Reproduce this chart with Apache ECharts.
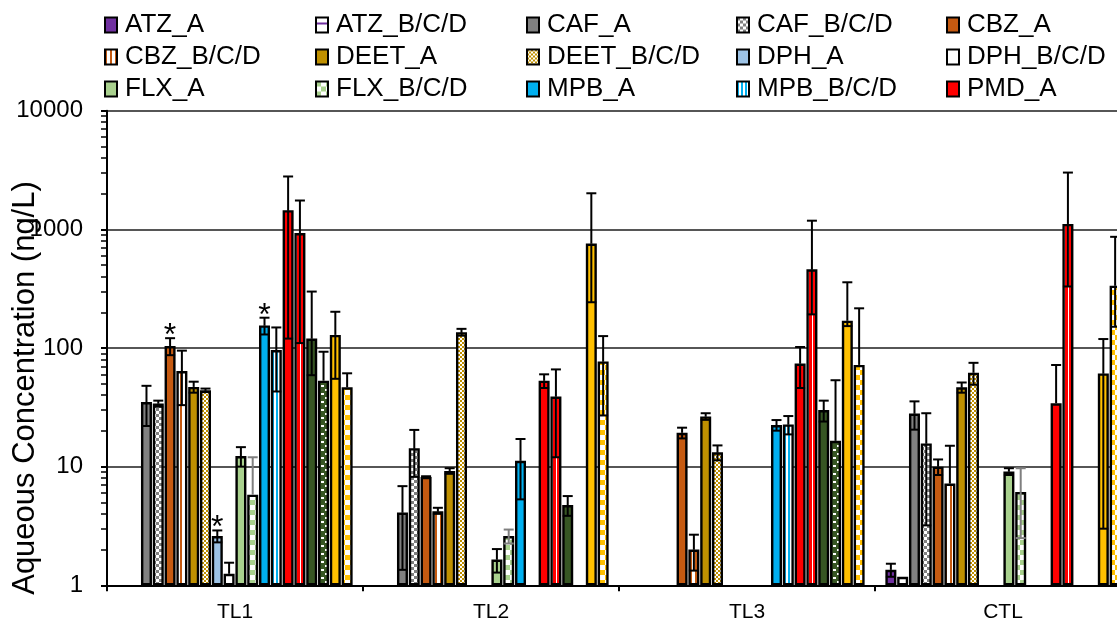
<!DOCTYPE html>
<html>
<head>
<meta charset="utf-8">
<script src="https://cdn.jsdelivr.net/npm/echarts@6/dist/echarts.min.js"></script>
<style>
  html, body { margin: 0; padding: 0; background: #ffffff; }
  #chart { width: 1117px; height: 624px; }
</style>
</head>
<body>
<div id="chart"></div>
<script>
// Sampling sites on the x axis
const categories = ['TL1', 'TL2', 'TL3', 'CTL'];

// Compounds, in bar order inside each site group
const compounds = [
  'ATZ_A', 'ATZ_B/C/D', 'CAF_A', 'CAF_B/C/D', 'CBZ_A', 'CBZ_B/C/D',
  'DEET_A', 'DEET_B/C/D', 'DPH_A', 'DPH_B/C/D', 'FLX_A', 'FLX_B/C/D',
  'MPB_A', 'MPB_B/C/D', 'PMD_A', 'PMD_B/C/D', 'SMX_A', 'SMX_B/C/D',
  'TCS_A', 'TCS_B/C/D'
];

// Legend entries shown, column by column
const legendColumns = [
  ['ATZ_A', 'CBZ_B/C/D', 'FLX_A'],
  ['ATZ_B/C/D', 'DEET_A', 'FLX_B/C/D'],
  ['CAF_A', 'DEET_B/C/D', 'MPB_A'],
  ['CAF_B/C/D', 'DPH_A', 'MPB_B/C/D'],
  ['CBZ_A', 'DPH_B/C/D', 'PMD_A']
];

// Mean aqueous concentration (ng/L) per compound; null = not detected
const valuesTL1 = [null, null, 35, 34, 104, 64, 47, 44, 2.6, 1.25, 12.3, 5.8, 155, 96, 1450, 930, 120, 53, 129, 46.6];
const valuesTL2 = [null, null, 4.1, 14.3, 8.2, 4.2, 9.2, 136, null, null, 1.65, 2.6, 11.2, null, 53, 39, 4.75, null, 760, 77];
const valuesTL3 = [null, null, null, null, 19.3, 2.0, 26.5, 13.2, null, null, null, null, 22.4, 22.7, 74, 460, 30, 16.5, 170, 72];
const valuesCTL = [1.35, 1.18, 28, 15.7, 10, 7.2, 46.6, 62, null, null, 9.1, 6.1, null, null, 34.2, 1110, null, null, 61, 335];

// Upper error (ng/L)
const errUpTL1 = [null, null, 13, 2, 17, 31, 5, 1.5, 0.3, 0.3, 2.3, 6.2, 25, 53, 1340, 820, 179, 40, 73, 14.6];
const errUpTL2 = [null, null, 2.75, 6.1, 0.1, 0.3, 0.5, 9, null, null, 0.37, 0.35, 5.9, null, 7, 27, 0.9, null, 1254, 49];
const errUpTL3 = [null, null, null, null, 2, 0.67, 1.7, 1.9, null, null, null, null, 2.3, 4, 28, 723, 6, 37, 188, 144];
const errUpCTL = [0.17, null, 7.5, 12.5, 1.5, 7.8, 4.6, 13, null, null, 0.6, 3.6, null, null, 37.7, 1900, null, null, 58, 530];

// Lower error (ng/L); null = lower whisker not drawn
const errDownTL1 = [null, null, 13, 2, 17, 31, 5, 1.5, 0.3, null, 2.3, null, 25, 53, 1330, 820, 61, null, 74, null];
const errDownTL2 = [null, null, 2.75, 6.1, 0.1, 0.2, 0.5, 9, null, null, 0.37, 0.35, 5.9, null, 7, 27, 0.9, null, 517, 50];
const errDownTL3 = [null, null, null, null, 2, 0.67, 1.7, 1.9, null, null, null, null, 2.3, 4, 28, 268, 6, null, 17, null];
const errDownCTL = [0.17, null, 7.5, 12.5, 1.5, null, 4.6, 13, null, null, 0.6, 3.6, null, null, null, 780, null, null, 58, 184];

// Significant differences marked with an asterisk: [site, compound]
const significant = [['TL1', 'CBZ_A'], ['TL1', 'DPH_A'], ['TL1', 'MPB_A']];

// Y axis tick labels (log scale)
const yTicks = [1, 10, 100, 1000, 10000];

const valueRows = [valuesTL1, valuesTL2, valuesTL3, valuesCTL];
const errUpRows = [errUpTL1, errUpTL2, errUpTL3, errUpCTL];
const errDownRows = [errDownTL1, errDownTL2, errDownTL3, errDownCTL];

// ---- fill patterns ----
function tile(w, h, bg, draw) {
  const c = document.createElement('canvas');
  c.width = w; c.height = h;
  const ctx = c.getContext('2d');
  ctx.fillStyle = bg; ctx.fillRect(0, 0, w, h);
  if (draw) draw(ctx);
  return { image: c, repeat: 'repeat' };
}
function checker(cell, fg, bg) {
  return tile(cell * 2, cell * 2, bg, ctx => {
    ctx.fillStyle = fg;
    ctx.fillRect(0, 0, cell, cell);
    ctx.fillRect(cell, cell, cell, cell);
  });
}
function vStripes(period, width, fg, bg) {
  return tile(period, 4, bg, ctx => { ctx.fillStyle = fg; ctx.fillRect(0, 0, width, 4); });
}
function hStripes(period, width, fg, bg) {
  return tile(4, period, bg, ctx => { ctx.fillStyle = fg; ctx.fillRect(0, Math.floor(period / 2), 4, width); });
}
function dashes(fg, bg) {
  return tile(8, 8, bg, ctx => {
    ctx.fillStyle = fg;
    ctx.fillRect(1, 1, 3, 2);
    ctx.fillRect(5, 5, 3, 2);
  });
}

const fills = {
  'ATZ_A': '#7030A0',
  'ATZ_B/C/D': hStripes(10, 2, '#7030A0', '#ffffff'),
  'CAF_A': '#808080',
  'CAF_B/C/D': checker(3, '#808080', '#ffffff'),
  'CBZ_A': '#C55A11',
  'CBZ_B/C/D': vStripes(5, 2, '#C55A11', '#ffffff'),
  'DEET_A': '#BF9000',
  'DEET_B/C/D': checker(2, '#BF9000', '#ffffff'),
  'DPH_A': '#9DC3E6',
  'DPH_B/C/D': '#ffffff',
  'FLX_A': '#A9D18E',
  'FLX_B/C/D': checker(5, '#A9D18E', '#ffffff'),
  'MPB_A': '#00B0F0',
  'MPB_B/C/D': vStripes(4, 2, '#00B0F0', '#ffffff'),
  'PMD_A': '#FF0000',
  'PMD_B/C/D': vStripes(4, 1, '#ffffff', '#FF0000'),
  'SMX_A': '#375623',
  'SMX_B/C/D': dashes('#ffffff', '#375623'),
  'TCS_A': '#FFC000',
  'TCS_B/C/D': checker(5, '#FFC000', '#ffffff')
};
const errColors = { 'FLX_B/C/D': '#7f7f7f' };

// ---- bar layout shared by bars and error whiskers ----
const CATEGORY_GAP = 0.081;
const BAR_GAP = 0.073;
const FONT = '"Liberation Sans", Arial, sans-serif';

const barSeries = compounds.map((name, si) => ({
  name: name,
  type: 'bar',
  barCategoryGap: (CATEGORY_GAP * 100) + '%',
  barGap: (BAR_GAP * 100) + '%',
  data: valueRows.map(row => row[si]),
  itemStyle: { color: fills[name], borderColor: '#000000', borderWidth: 2.4 },
  emphasis: { disabled: true },
  z: 2
}));

const errData = [];
categories.forEach((cat, ci) => {
  compounds.forEach((name, si) => {
    const v = valueRows[ci][si];
    if (v == null) return;
    const up = errUpRows[ci][si];
    const dn = errDownRows[ci][si];
    const star = significant.some(s => s[0] === cat && s[1] === name) ? 1 : 0;
    errData.push([ci, v, up == null ? 0 : up, dn == null ? 0 : dn, si, star]);
  });
});

function renderError(params, api) {
  const ci = api.value(0), v = api.value(1), up = api.value(2), dn = api.value(3);
  const si = api.value(4), star = api.value(5);
  const n = compounds.length;
  const band = api.size([1, 0])[0];
  const w = band * (1 - CATEGORY_GAP) / (n + (n - 1) * BAR_GAP);
  const total = n * w + (n - 1) * w * BAR_GAP;
  const base = api.coord([ci, v]);
  const cx = base[0] - total / 2 + si * w * (1 + BAR_GAP) + w / 2;
  const color = errColors[compounds[si]] || '#000000';
  const half = (w - 1) / 2;
  const children = [];
  const ls = { stroke: color, lineWidth: 2 };
  let topY = base[1];
  if (up > 0) {
    topY = api.coord([ci, v + up])[1];
    children.push({ type: 'line', shape: { x1: cx, y1: base[1], x2: cx, y2: topY }, style: ls });
    children.push({ type: 'line', shape: { x1: cx - half, y1: topY, x2: cx + half, y2: topY }, style: ls });
  }
  if (dn > 0 && v - dn > 0) {
    const lowY = api.coord([ci, v - dn])[1];
    children.push({ type: 'line', shape: { x1: cx, y1: base[1], x2: cx, y2: lowY }, style: ls });
    children.push({ type: 'line', shape: { x1: cx - half, y1: lowY, x2: cx + half, y2: lowY }, style: ls });
  }
  if (star) {
    children.push({
      type: 'text',
      style: { text: '*', x: cx, y: topY - 2, align: 'center', verticalAlign: 'middle',
               font: '32px ' + FONT, fill: '#000000' }
    });
  }
  return { type: 'group', children: children };
}

const minorTicks = [];
for (let d = 0; d < 4; d++) for (let k = 2; k <= 9; k++) minorTicks.push(k * Math.pow(10, d));

const legendLefts = [104, 315, 526, 736, 946];
const legends = legendColumns.map((names, i) => ({
  data: names,
  orient: 'vertical',
  left: legendLefts[i],
  top: 12,
  padding: 0,
  itemGap: 6,
  itemWidth: 12,
  itemHeight: 15,
  icon: 'rect',
  selectedMode: false,
  itemStyle: { borderColor: '#000000', borderWidth: 2 },
  textStyle: { fontSize: 26, lineHeight: 26, fontFamily: FONT, color: '#000000', padding: [0, 0, 0, 3] }
}));

const chart = echarts.init(document.getElementById('chart'), null, { renderer: 'canvas' });
chart.setOption({
  animation: false,
  backgroundColor: '#ffffff',
  legend: legends,
  grid: { left: 107, right: -14, top: 110.7, bottom: 38.7, containLabel: false, outerBoundsMode: 'none' },
  graphic: [{
    type: 'text',
    x: 25, y: 388,
    rotation: Math.PI / 2,
    style: { text: 'Aqueous Concentration (ng/L)', font: '31px ' + FONT, fill: '#000000',
             align: 'center', verticalAlign: 'middle' }
  }],
  xAxis: {
    type: 'category',
    data: categories,
    boundaryGap: true,
    axisLine: { lineStyle: { color: '#000000', width: 2 } },
    axisTick: { show: true, alignWithLabel: false, length: 6, lineStyle: { color: '#000000', width: 2 } },
    axisLabel: { fontSize: 21, fontFamily: FONT, color: '#000000', margin: 16 },
    splitLine: { show: false }
  },
  yAxis: [{
    type: 'log',
    logBase: 10,
    min: yTicks[0],
    max: yTicks[yTicks.length - 1],
    interval: 1,
    axisLine: { show: true, lineStyle: { color: '#000000', width: 2 } },
    axisTick: { show: true, length: 6, lineStyle: { color: '#000000', width: 2 } },
    axisLabel: { fontSize: 24, fontFamily: FONT, color: '#000000', margin: 24,
                 formatter: v => String(Math.round(v)) },
    splitLine: { show: true, lineStyle: { color: '#1e1e1e', width: 1.6 } },
    minorTick: { show: false }
  }, {
    type: 'log',
    logBase: 10,
    min: yTicks[0],
    max: yTicks[yTicks.length - 1],
    position: 'left',
    axisLine: { show: false },
    axisLabel: { show: false },
    splitLine: { show: false },
    axisTick: { show: true, length: 6, customValues: minorTicks, lineStyle: { color: '#000000', width: 1.5 } }
  }],
  series: barSeries.concat([{
    type: 'custom',
    name: 'error',
    renderItem: renderError,
    data: errData,
    encode: { x: 0, y: 1 },
    z: 5,
    silent: true
  }])
});
</script>
</body>
</html>
